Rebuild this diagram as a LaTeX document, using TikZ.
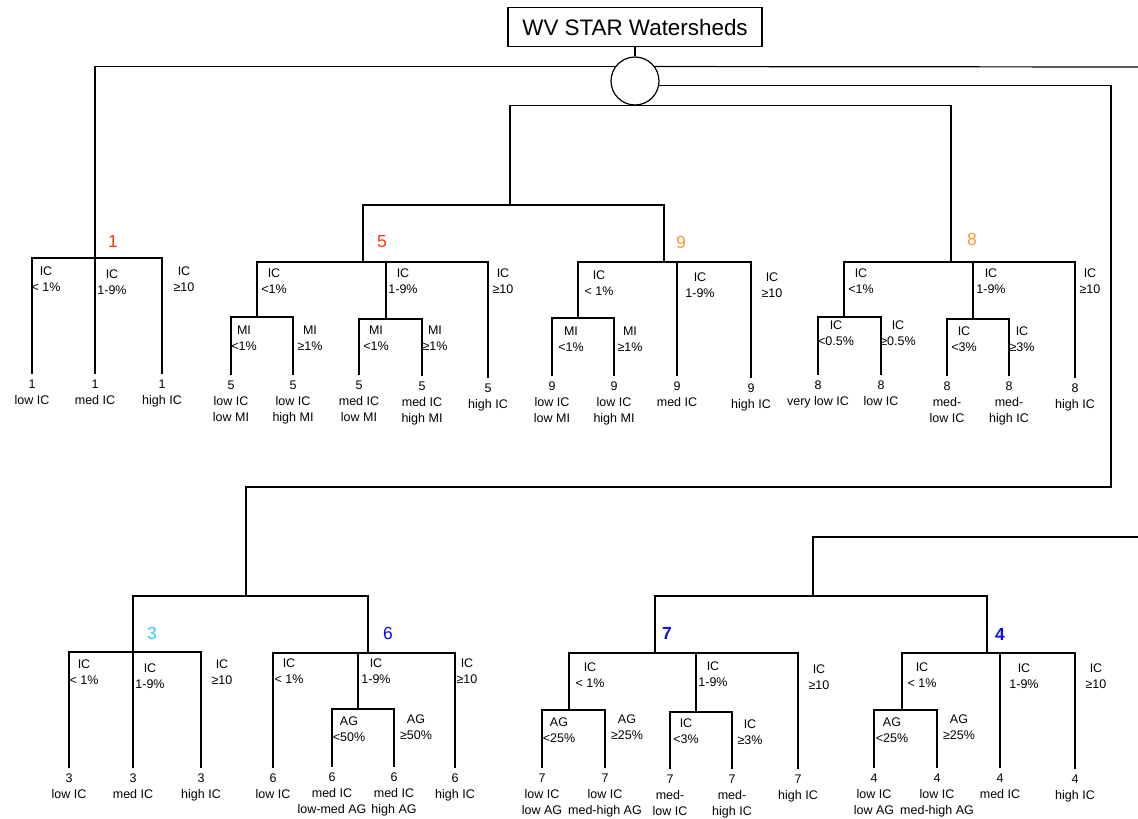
\documentclass[tikz,border=0pt]{standalone}
\usepackage{fontspec}
\setmainfont{Liberation Sans}
\definecolor{redorange}{RGB}{255,55,15}
\definecolor{lightorange}{RGB}{255,150,50}
\definecolor{skyblue}{RGB}{50,200,255}
\definecolor{deepblue}{RGB}{10,10,245}

\begin{document}
\begin{tikzpicture}[
	x=1pt, y=-1pt,
	line width=1.2pt,
	title/.style={
		draw,
		rectangle,
		minimum width=254pt,
		minimum height=39pt,
		font=\fontsize{22.4}{26}\selectfont
		},
	root/.style={
		draw,
		circle,
		minimum size=48pt,
		inner sep=0pt
		},
	leaf/.style={
		anchor=north,
		align=center,
		inner xsep=0pt,
		inner ysep=5pt,
		font=\fontsize{12.5}{16}\selectfont
		},
	cond/.style={
		align=center,
		inner sep=0pt,
		font=\fontsize{12.5}{16}\selectfont
		},
	num/.style={
		inner sep=0pt,
		font=\fontsize{17.5}{20}\selectfont
		}
]
\useasboundingbox (0,0) rectangle (1138,819);

% Root
\node [title] (title) at (635,27) {WV STAR Watersheds};
\node [root] (root) at (635,81) {};
\coordinate (eastA) at (1138,67);
\coordinate (eastB) at (1138,537);
\coordinate (r1) at (1111,487);
\coordinate (g59) at (510,205);
\coordinate (g36) at (246,596);
\coordinate (g74) at (813,596);

% Split points
\coordinate (g1) at (95,258);
\coordinate (g5) at (363,262);
\coordinate (s5a) at (257,317);
\coordinate (s5b) at (386,319);
\coordinate (g9) at (664,262);
\coordinate (s9a) at (578,318);
\coordinate (g8) at (951,262);
\coordinate (s8a) at (844,317);
\coordinate (s8b) at (973,319);
\coordinate (g3) at (133,652);
\coordinate (g6) at (368,653);
\coordinate (s6) at (358,709);
\coordinate (g7) at (655,653);
\coordinate (s7a) at (569,710);
\coordinate (s7b) at (696,712);
\coordinate (g4) at (987,653);
\coordinate (s4) at (902,710);

% Group numbers
\node [num, text=redorange] (n1) at (113,241) {1};
\node [num, text=redorange] (n5) at (382,242) {5};
\node [num, text=lightorange] (n9) at (681,242) {9};
\node [num, text=lightorange] (n8) at (972,239) {8};
\node [num, text=skyblue] (n3) at (152,633) {3};
\node [num, text=deepblue] (n6) at (388,633) {6};
\node [num, text=deepblue, font=\fontsize{17.5}{20}\selectfont\bfseries] (n7) at (667,633) {7};
\node [num, text=deepblue, font=\fontsize{17.5}{20}\selectfont\bfseries] (n4) at (1000,634) {4};

% Leaves
\node [leaf] (L1a) at (32,374) {1\\low IC};
\node [leaf] (L1b) at (95,374) {1\\med IC};
\node [leaf] (L1c) at (162,374) {1\\high IC};
\node [leaf] (L5a) at (231,375) {5\\low IC\\low MI};
\node [leaf] (L5b) at (293,375) {5\\low IC\\high MI};
\node [leaf] (L5c) at (359,375) {5\\med IC\\low MI};
\node [leaf] (L5d) at (422,376) {5\\med IC\\high MI};
\node [leaf] (L5e) at (488,378) {5\\high IC};
\node [leaf] (L9a) at (552,376) {9\\low IC\\low MI};
\node [leaf] (L9b) at (614,376) {9\\low IC\\high MI};
\node [leaf] (L9c) at (677,376) {9\\med IC};
\node [leaf] (L9d) at (751,378) {9\\high IC};
\node [leaf] (L8a) at (818,375) {8\\very low IC};
\node [leaf] (L8b) at (881,375) {8\\low IC};
\node [leaf] (L8c) at (947,376) {8\\med-\\low IC};
\node [leaf] (L8d) at (1009,376) {8\\med-\\high IC};
\node [leaf] (L8e) at (1075,378) {8\\high IC};
\node [leaf] (L3a) at (69,768) {3\\low IC};
\node [leaf] (L3b) at (133,768) {3\\med IC};
\node [leaf] (L3c) at (201,768) {3\\high IC};
\node [leaf] (L6a) at (273,768) {6\\low IC};
\node [leaf] (L6b) at (332,767) {6\\med IC\\low-med AG};
\node [leaf] (L6c) at (394,767) {6\\med IC\\high AG};
\node [leaf] (L6d) at (455,768) {6\\high IC};
\node [leaf] (L7a) at (542,768) {7\\low IC\\low AG};
\node [leaf] (L7b) at (605,768) {7\\low IC\\med-high AG};
\node [leaf] (L7c) at (670,769) {7\\med-\\low IC};
\node [leaf] (L7d) at (732,769) {7\\med-\\high IC};
\node [leaf] (L7e) at (798,769) {7\\high IC};
\node [leaf] (L4a) at (874,768) {4\\low IC\\low AG};
\node [leaf] (L4b) at (937,768) {4\\low IC\\med-high AG};
\node [leaf] (L4c) at (1000,768) {4\\med IC};
\node [leaf] (L4d) at (1075,769) {4\\high IC};

% Conditions
\node [cond] (C1a) at (46,279) {IC\\< 1\%};
\node [cond] (C1b) at (112,282) {IC\\1-9\%};
\node [cond] (C1c) at (184,279) {IC\\≥10};
\node [cond] (C5a) at (274,281) {IC\\<1\%};
\node [cond] (C5b) at (403,281) {IC\\1-9\%};
\node [cond] (C5c) at (503,281) {IC\\≥10};
\node [cond] (C5d) at (244,338) {MI\\<1\%};
\node [cond] (C5e) at (310,338) {MI\\≥1\%};
\node [cond] (C5f) at (376,338) {MI\\<1\%};
\node [cond] (C5g) at (435,338) {MI\\≥1\%};
\node [cond] (C9a) at (599,283) {IC\\< 1\%};
\node [cond] (C9b) at (700,285) {IC\\1-9\%};
\node [cond] (C9c) at (772,285) {IC\\≥10};
\node [cond] (C9d) at (571,339) {MI\\<1\%};
\node [cond] (C9e) at (630,339) {MI\\≥1\%};
\node [cond] (C8a) at (861,281) {IC\\<1\%};
\node [cond] (C8b) at (991,281) {IC\\1-9\%};
\node [cond] (C8c) at (1090,281) {IC\\≥10};
\node [cond] (C8d) at (836,333) {IC\\<0.5\%};
\node [cond] (C8e) at (898,333) {IC\\≥0.5\%};
\node [cond] (C8f) at (964,339) {IC\\<3\%};
\node [cond] (C8g) at (1022,339) {IC\\≥3\%};
\node [cond] (C3a) at (84,672) {IC\\< 1\%};
\node [cond] (C3b) at (150,676) {IC\\1-9\%};
\node [cond] (C3c) at (222,672) {IC\\≥10};
\node [cond] (C6a) at (289,671) {IC\\< 1\%};
\node [cond] (C6b) at (376,671) {IC\\1-9\%};
\node [cond] (C6c) at (467,671) {IC\\≥10};
\node [cond] (C6d) at (349,729) {AG\\<50\%};
\node [cond] (C6e) at (416,727) {AG\\≥50\%};
\node [cond] (C7a) at (590,675) {IC\\< 1\%};
\node [cond] (C7b) at (713,674) {IC\\1-9\%};
\node [cond] (C7c) at (819,677) {IC\\≥10};
\node [cond] (C7d) at (559,730) {AG\\<25\%};
\node [cond] (C7e) at (627,727) {AG\\≥25\%};
\node [cond] (C7f) at (686,731) {IC\\<3\%};
\node [cond] (C7g) at (750,732) {IC\\≥3\%};
\node [cond] (C4a) at (922,675) {IC\\< 1\%};
\node [cond] (C4b) at (1024,676) {IC\\1-9\%};
\node [cond] (C4c) at (1096,676) {IC\\≥10};
\node [cond] (C4d) at (892,730) {AG\\<25\%};
\node [cond] (C4e) at (959,727) {AG\\≥25\%};

% Connectors
\draw (title) -- (root);
\draw (root.144) -| (g1);
\draw (root.36) -- (eastA);
\draw (root.-10) -| (r1) -| (g36);
\draw (root.south) -| (g59);
\draw (root.south) -| (g8);
\draw (g59) -| (g5);
\draw (g59) -| (g9);
\draw (g36) -| (g3);
\draw (g36) -| (g6);
\draw (eastB) -| (g74);
\draw (g74) -| (g7);
\draw (g74) -| (g4);

\draw (g1) -| (L1a) (g1) -| (L1b) (g1) -| (L1c);
\draw (g5) -| (s5a) (g5) -| (s5b) (g5) -| (L5e);
\draw (s5a) -| (L5a) (s5a) -| (L5b);
\draw (s5b) -| (L5c) (s5b) -| (L5d);
\draw (g9) -| (s9a) (g9) -| (L9c) (g9) -| (L9d);
\draw (s9a) -| (L9a) (s9a) -| (L9b);
\draw (g8) -| (s8a) (g8) -| (s8b) (g8) -| (L8e);
\draw (s8a) -| (L8a) (s8a) -| (L8b);
\draw (s8b) -| (L8c) (s8b) -| (L8d);
\draw (g3) -| (L3a) (g3) -| (L3b) (g3) -| (L3c);
\draw (g6) -| (L6a) (g6) -| (s6) (g6) -| (L6d);
\draw (s6) -| (L6b) (s6) -| (L6c);
\draw (g7) -| (s7a) (g7) -| (s7b) (g7) -| (L7e);
\draw (s7a) -| (L7a) (s7a) -| (L7b);
\draw (s7b) -| (L7c) (s7b) -| (L7d);
\draw (g4) -| (s4) (g4) -| (L4c) (g4) -| (L4d);
\draw (s4) -| (L4a) (s4) -| (L4b);

\end{tikzpicture}
\end{document}
